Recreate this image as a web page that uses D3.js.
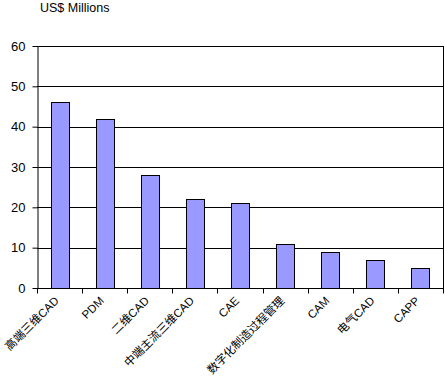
<!DOCTYPE html>
<html><head><meta charset="utf-8">
<script src="https://cdn.jsdelivr.net/npm/d3@7"></script>
<style>body{margin:0;background:#fff}svg{display:block}</style>
</head><body>
<script>
const categories = ["高端三维CAD","PDM","二维CAD","中端主流三维CAD","CAE","数字化制造过程管理","CAM","电气CAD","CAPP"];
const values = [46,42,28,22,21,11,9,7,5];
const yTicks = [0,10,20,30,40,50,60];
const title = "US$ Millions";

const W=445,H=379;
const m={l:37,t:46,r:443,b:288};
const svg=d3.select("body").append("svg").attr("width",W).attr("height",H);
const font="Arial, 'Liberation Sans', 'Noto Sans CJK SC', sans-serif";
const x=d3.scaleBand().domain(categories).range([m.l,m.r]).paddingInner(0.6).paddingOuter(0.3);
const xb=d3.scaleBand().domain(categories).range([m.l,m.r]);
const y=d3.scaleLinear().domain([0,60]).range([m.b,m.t]);

// gridlines
svg.append("g").selectAll("line").data(yTicks.filter(d=>d>0)).join("line")
 .attr("x1",m.l).attr("x2",m.r).attr("y1",d=>Math.round(y(d))+0.5).attr("y2",d=>Math.round(y(d))+0.5)
 .attr("stroke","#000").attr("stroke-width",1);
// right border
svg.append("line").attr("x1",m.r+0.5).attr("x2",m.r+0.5).attr("y1",m.t).attr("y2",m.b).attr("stroke","#000");

// bars
svg.append("g").selectAll("rect").data(values).join("rect")
 .attr("x",(d,i)=>Math.round(x(categories[i]))+0.5).attr("width",Math.round(x.bandwidth()))
 .attr("y",d=>Math.round(y(d))+0.5).attr("height",d=>Math.round(m.b-y(d)))
 .attr("fill","#9999ff").attr("stroke","#000").attr("stroke-width",1);

// y axis
const ya=svg.append("g").attr("transform",`translate(${m.l+0.5},0)`)
 .call(d3.axisLeft(y).tickValues(yTicks).tickSize(5).tickPadding(7).tickSizeOuter(0));
ya.select(".domain").attr("stroke","#000");
ya.selectAll("text").attr("font-family",font).attr("font-size",13).attr("fill","#000");

// x axis
const xa=svg.append("g").attr("transform",`translate(0,${m.b+0.5})`);
xa.append("line").attr("x1",m.l).attr("x2",m.r+1).attr("stroke","#000");
const bounds=categories.map(c=>xb(c)).concat([m.r]);
xa.selectAll("line.t").data(bounds).join("line").attr("class","t")
 .attr("x1",d=>Math.round(d)+0.5).attr("x2",d=>Math.round(d)+0.5).attr("y1",0).attr("y2",5).attr("stroke","#000");
xa.selectAll("text").data(categories).join("text")
 .attr("transform",d=>`translate(${xb(d)+xb.bandwidth()/2},${13}) rotate(-45)`)
 .attr("text-anchor","end").attr("font-family",font).attr("font-size",11.5).attr("fill","#000").text(d=>d);

svg.append("text").attr("x",40).attr("y",12).attr("font-family",font).attr("font-size",12.5).attr("fill","#000").text(title);
</script>
</body></html>
